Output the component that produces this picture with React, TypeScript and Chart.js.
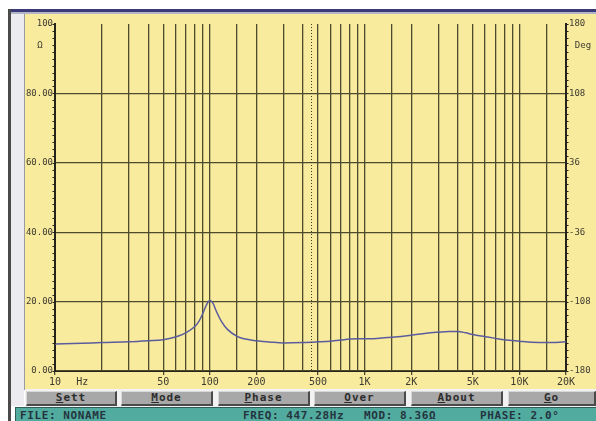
import React, { useEffect, useRef } from 'react';
import { Chart, registerables } from 'chart.js';

Chart.register(...registerables);

// ---- data ----
const freqs = [10, 15, 20, 30, 40, 50, 60, 70, 80, 85, 90, 95, 100, 105, 110, 120, 130, 150, 170, 200, 250, 300, 400, 500, 600, 700, 800, 1000, 1200, 1500, 2000, 2500, 3000, 3500, 4000, 4500, 5000, 6000, 7000, 8000, 10000, 12000, 15000, 20000];
const impedance = [7.8, 8.0, 8.2, 8.4, 8.7, 9.0, 9.8, 11.0, 12.8, 14.3, 16.5, 19.0, 20.3, 19.5, 17.3, 14.0, 12.0, 10.0, 9.2, 8.7, 8.3, 8.1, 8.2, 8.4, 8.6, 8.9, 9.2, 9.3, 9.4, 9.7, 10.3, 10.9, 11.2, 11.4, 11.4, 11.0, 10.5, 9.9, 9.4, 9.0, 8.6, 8.3, 8.2, 8.4];
const gridFreqs = [10, 15, 20, 30, 40, 50, 60, 70, 80, 90, 100, 150, 200, 300, 400, 500, 600, 700, 800, 900, 1000, 1500, 2000, 3000, 4000, 5000, 6000, 7000, 8000, 9000, 10000, 15000, 20000];
const freqLabelValues = [10, 15, 50, 100, 200, 500, 1000, 2000, 5000, 10000, 20000];
const freqLabelTexts = ['10', 'Hz', '50', '100', '200', '500', '1K', '2K', '5K', '10K', '20K'];
const ohmTickValues = [0, 20, 40, 60, 80, 100];
const ohmTickTexts = ['0.00', '20.00', '40.00', '60.00', '80.00', '100'];
const degTickValues = [-180, -108, -36, 36, 108, 180];
const cursorFreq = 447.28;
const buttonLabels = ['Sett', 'Mode', 'Phase', 'Over', 'About', 'Go'];
const statusTexts = ['FILE: NONAME', 'FREQ: 447.28Hz', 'MOD: 8.36\u03A9', 'PHASE: 2.0\u00B0'];

const YELLOW = '#f8eb9e';
const GRID = '#4e4a2c';
const AXIS = '#25231a';
const LABEL = '#3e3b30';
const FONT = '"DejaVu Sans Mono", monospace';

const buttonPos = [[26, 91], [121, 92], [218, 92], [314, 92], [411, 92], [508, 88]];
const statusPos = [20, 243, 364, 480];

const extrasPlugin = {
  id: 'extras',
  afterDraw(chart: any) {
    const ctx = chart.ctx;
    const area = chart.chartArea;
    const x = chart.scales.x;
    const y = chart.scales.y;
    ctx.save();
    // minor ticks on left & right axes
    ctx.strokeStyle = AXIS;
    ctx.lineWidth = 1;
    for (let v = 0; v <= 100; v += 2) {
      const py = Math.round(y.getPixelForValue(v)) + 0.5;
      ctx.beginPath();
      ctx.moveTo(area.left - 2.5, py);
      ctx.lineTo(area.left + 1, py);
      ctx.moveTo(area.right - 1, py);
      ctx.lineTo(area.right + 2.5, py);
      ctx.stroke();
    }
    // cursor dotted line
    const cx = Math.round(x.getPixelForValue(cursorFreq)) + 0.5;
    ctx.setLineDash([1, 2]);
    ctx.strokeStyle = '#3a3628';
    ctx.beginPath();
    ctx.moveTo(cx, area.top);
    ctx.lineTo(cx, area.bottom);
    ctx.stroke();
    ctx.setLineDash([]);
    // unit labels
    ctx.fillStyle = LABEL;
    ctx.font = '9px ' + FONT;
    ctx.textAlign = 'center';
    ctx.textBaseline = 'middle';
    ctx.fillText('\u03A9', area.left - 15, area.top + 22);
    ctx.fillText('Deg', area.right + 17, area.top + 22);
    ctx.restore();
  },
};

function ImpedanceChart() {
  const ref = useRef<HTMLCanvasElement | null>(null);
  useEffect(() => {
    if (!ref.current) return;
    const chart = new Chart(ref.current, {
      type: 'line',
      data: {
        datasets: [
          {
            data: freqs.map((f, i) => ({ x: f, y: impedance[i] })),
            borderColor: '#5a5c9e',
            borderWidth: 1.5,
            pointRadius: 0,
            cubicInterpolationMode: 'monotone',
            fill: false,
            yAxisID: 'y',
          },
        ],
      },
      options: {
        animation: false,
        responsive: false,
        maintainAspectRatio: false,
        layout: { padding: { top: 10, left: 0, right: 0, bottom: 0 } },
        plugins: { legend: { display: false }, tooltip: { enabled: false } },
        scales: {
          x: {
            type: 'logarithmic',
            min: 10,
            max: 20000,
            afterBuildTicks: (scale: any) => {
              scale.ticks = gridFreqs.map((v) => ({ value: v }));
            },
            afterFit: (scale: any) => {
              scale.height = 18;
            },
            ticks: {
              autoSkip: false,
              maxRotation: 0,
              padding: 1,
              color: LABEL,
              font: { family: FONT, size: 10 },
              callback: (v: any) => {
                const i = freqLabelValues.indexOf(Number(v));
                return i >= 0 ? freqLabelTexts[i] : '';
              },
            },
            grid: {
              color: (c: any) => (c.tick && (c.tick.value === 15 || c.tick.value === 10 || c.tick.value === 20000) ? 'rgba(0,0,0,0)' : GRID),
              lineWidth: 1.3,
              tickLength: 4,
              tickColor: (c: any) => (c.tick && freqLabelValues.indexOf(c.tick.value) >= 0 && c.tick.value !== 15 ? GRID : 'rgba(0,0,0,0)'),
            },
            border: { display: true, color: AXIS, width: 1 },
          },
          y: {
            type: 'linear',
            position: 'left',
            min: 0,
            max: 100,
            afterBuildTicks: (scale: any) => {
              scale.ticks = ohmTickValues.map((v) => ({ value: v }));
            },
            afterFit: (scale: any) => {
              scale.width = 30;
            },
            ticks: {
              padding: 2,
              color: LABEL,
              font: { family: FONT, size: 9 },
              callback: (v: any) => {
                const i = ohmTickValues.indexOf(Number(v));
                return i >= 0 ? ohmTickTexts[i] : '';
              },
            },
            grid: {
              color: (c: any) => (c.tick && c.tick.value === 100 ? 'rgba(0,0,0,0)' : GRID),
              lineWidth: 1.3,
              drawTicks: false,
            },
            border: { display: true, color: AXIS, width: 2 },
          },
          y1: {
            type: 'linear',
            position: 'right',
            min: -180,
            max: 180,
            afterBuildTicks: (scale: any) => {
              scale.ticks = degTickValues.map((v) => ({ value: v }));
            },
            afterFit: (scale: any) => {
              scale.width = 30;
            },
            ticks: {
              padding: 3,
              color: LABEL,
              font: { family: FONT, size: 9 },
              callback: (v: any) => String(v),
            },
            grid: { display: false, drawTicks: false },
            border: { display: true, color: AXIS, width: 2 },
          },
        },
      } as any,
      plugins: [extrasPlugin],
    });
    return () => chart.destroy();
  }, []);
  return <canvas ref={ref} width={571} height={375} style={{ width: 571, height: 375, display: 'block' }} />;
}

export default function App() {
  return (
    <div style={{ position: 'fixed', left: 0, top: 0, width: 596, height: 421, background: '#ffffff', overflow: 'hidden' }}>
      {/* top navy bar */}
      <div style={{ position: 'absolute', left: 8, top: 9, width: 588, height: 3, background: '#3b3a78' }} />
      <div style={{ position: 'absolute', left: 11, top: 12, width: 585, height: 2, background: '#b4b4c8' }} />
      {/* left frame */}
      <div style={{ position: 'absolute', left: 8, top: 9, width: 3, height: 412, background: '#4a4a4a' }} />
      <div style={{ position: 'absolute', left: 11, top: 14, width: 13, height: 392, background: '#ececf0' }} />
      <div style={{ position: 'absolute', left: 24, top: 14, width: 1, height: 376, background: '#9a9aa0' }} />
      {/* yellow panel */}
      <div style={{ position: 'absolute', left: 25, top: 14, width: 571, height: 375, background: YELLOW }}>
        <ImpedanceChart />
      </div>
      {/* buttons row */}
      <div style={{ position: 'absolute', left: 25, top: 389, width: 571, height: 18, background: '#f2f2f2' }} />
      {buttonLabels.map((b, i) => (
        <div
          key={b}
          style={{
            position: 'absolute',
            left: buttonPos[i][0],
            top: 391,
            width: buttonPos[i][1],
            height: 15,
            boxSizing: 'border-box',
            background: '#a8a8a8',
            borderTop: '1px solid #d8d8d8',
            borderLeft: '1px solid #d8d8d8',
            borderBottom: '2px solid #4a4a4a',
            borderRight: '2px solid #4a4a4a',
            fontFamily: FONT,
            fontWeight: 'bold',
            fontSize: 11,
            letterSpacing: 1,
            color: '#2c2c2c',
            textAlign: 'center',
            lineHeight: '12px',
          }}
        >
          <span style={{ textDecoration: 'underline' }}>{b[0]}</span>
          {b.slice(1)}
        </div>
      ))}
      {/* status bar */}
      <div style={{ position: 'absolute', left: 15, top: 407, width: 581, height: 14, background: '#52ab9f', borderTop: '1px solid #2e5e58', borderLeft: '1px solid #2e5e58' }} />
      {statusTexts.map((t, i) => (
        <div
          key={t}
          style={{
            position: 'absolute',
            left: statusPos[i],
            top: 410,
            fontFamily: FONT,
            fontWeight: 'bold',
            fontSize: 11,
            letterSpacing: 0.6,
            color: '#24343e',
            lineHeight: '12px',
            whiteSpace: 'nowrap',
          }}
        >
          {t}
        </div>
      ))}
    </div>
  );
}
